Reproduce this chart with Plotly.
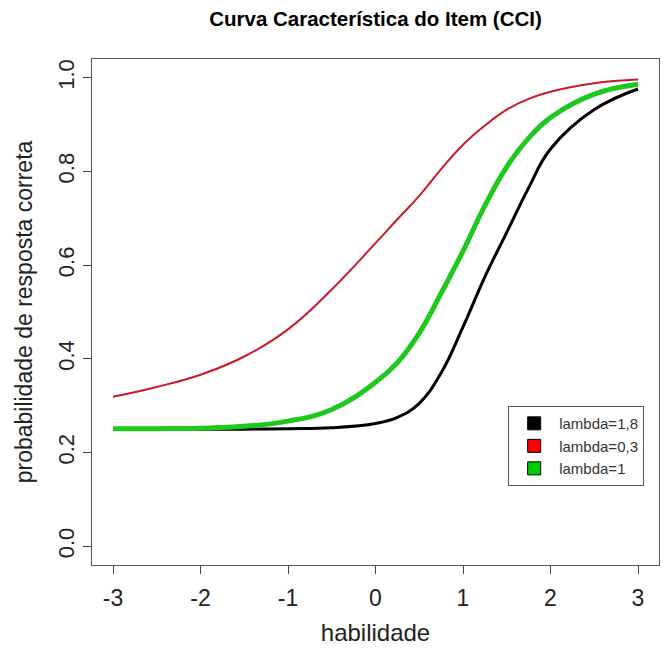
import plotly.graph_objects as go

habilidade = [-3, -2.5, -2, -1.5, -1, -0.5, 0, 0.25, 0.5, 0.75, 1, 1.25, 1.5, 1.75, 2, 2.5, 3]
p_lambda_18 = [0.250, 0.250, 0.250, 0.250, 0.251, 0.253, 0.262, 0.275, 0.305, 0.370, 0.468, 0.575, 0.670, 0.765, 0.848, 0.932, 0.976]
p_lambda_03 = [0.319, 0.340, 0.366, 0.405, 0.463, 0.548, 0.647, 0.698, 0.748, 0.805, 0.857, 0.898, 0.932, 0.955, 0.970, 0.988, 0.996]
p_lambda_1 = [0.251, 0.251, 0.252, 0.256, 0.267, 0.292, 0.350, 0.392, 0.455, 0.540, 0.630, 0.727, 0.810, 0.871, 0.915, 0.965, 0.986]

series_names = ["lambda=1,8", "lambda=0,3", "lambda=1"]
series_vals = [p_lambda_18, p_lambda_03, p_lambda_1]
colors = ["#000000", "#c81a2a", "#1ec81e"]
legend_colors = ["#000000", "#ff0000", "#00cc00"]
widths = [3, 2, 5]

fig = go.Figure()
for name, vals, c, w in zip(series_names, series_vals, colors, widths):
    fig.add_trace(go.Scatter(x=habilidade, y=vals, mode="lines", line=dict(color=c, width=w, shape="spline", smoothing=1.2),
                             showlegend=False, hoverinfo="skip"))
for name, c in zip(series_names, legend_colors):
    fig.add_trace(go.Scatter(x=[None], y=[None], mode="markers", name=name,
                             marker=dict(symbol="square", size=13, color=c, line=dict(color="#000", width=1))))

font = "Liberation Sans, Arial, sans-serif"
fig.update_layout(
    width=663, height=648,
    margin=dict(l=92, r=4, t=59, b=83),
    paper_bgcolor="white", plot_bgcolor="white",
    font=dict(family=font, color="#222"),
    title=dict(text="<b>Curva Característica do Item (CCI)</b>", x=(92 + 659) / 2 / 663, xanchor="center",
               y=1 - 19 / 648, yanchor="middle", yref="container", font=dict(size=20.5, color="#000")),
    legend=dict(x=0.734, y=0.314, xanchor="left", yanchor="top", bordercolor="#555", borderwidth=1,
                bgcolor="white", font=dict(size=15, color="#333"), tracegroupgap=0, itemsizing="trace",
                itemwidth=40),
    showlegend=True,
)
fig.update_xaxes(range=[-3.24, 3.24], tickvals=[-3, -2, -1, 0, 1, 2, 3], ticktext=["-3", "-2", "-1", "0", "1", "2", "3"],
                 ticks="outside", ticklen=8, tickcolor="#444", showline=True, linecolor="#555", mirror=True,
                 showgrid=False, zeroline=False, tickfont=dict(size=23, color="#222"), ticklabelstandoff=4,
                 title=dict(text="habilidade", font=dict(size=24, color="#222"), standoff=14))
fig.update_yaxes(range=[-0.04, 1.04], tickvals=[0, 0.2, 0.4, 0.6, 0.8, 1.0], ticktext=["0.0", "0.2", "0.4", "0.6", "0.8", "1.0"],
                 tickangle=-90, ticks="outside", ticklen=8, tickcolor="#444", showline=True, linecolor="#555", mirror=True,
                 showgrid=False, zeroline=False, tickfont=dict(size=22, color="#222"),
                 title=dict(text="probabilidade de resposta correta", font=dict(size=23, color="#222"), standoff=15))

fig.write_html("out.html")
